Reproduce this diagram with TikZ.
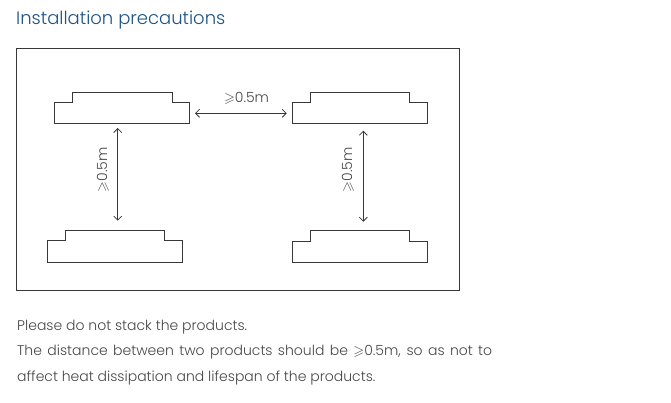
\documentclass[tikz,border=0pt]{standalone}
\usepackage{amssymb}
\usepackage{fontspec}
\setmainfont{Poppins}[UprightFont=* Light]
\usetikzlibrary{arrows.meta}
\definecolor{titleblue}{RGB}{28,82,135}
\definecolor{txtgray}{RGB}{70,70,70}
\definecolor{linegray}{RGB}{55,55,55}
\tikzset{
  prod/.style={draw=linegray, line width=0.9pt, line join=miter},
  gap/.style={draw=linegray, line width=0.8pt, {Straight Barb[length=4pt,width=8pt]}-{Straight Barb[length=4pt,width=8pt]}},
  lbl/.style={text=txtgray, font=\fontsize{14}{16}\selectfont, inner sep=0pt},
  body/.style={text=txtgray, font=\fontsize{14}{16}\selectfont, anchor=base west, inner sep=0pt},
}
\begin{document}
\begin{tikzpicture}[x=1pt,y=-1pt]
\useasboundingbox (0,0) rectangle (671,403);
\node[anchor=base west, inner sep=0pt, text=titleblue, font=\fontsize{18}{20}\selectfont] (title) at (16,25) {Installation precautions};
\draw[draw=linegray, line width=0.9pt] (16.5,48.5) rectangle (459.5,290) coordinate (framebr);
\coordinate (f) at (16.5,48.5);
% products
\draw[prod] (54.7,123.3) -- (54.7,102.7) -- (72.3,102.7) -- (72.3,92) -- (172.3,92) -- (172.3,102.7) -- (189,102.7) -- (189,123.3) -- cycle;
\draw[prod] (292.3,123.5) -- (292.3,102.7) -- (310,102.7) -- (310,92) -- (409.3,92) -- (409.3,102.7) -- (427.3,102.7) -- (427.3,123.5) -- cycle;
\draw[prod] (47.3,262.3) -- (47.3,240.7) -- (65,240.7) -- (65,230) -- (164.7,230) -- (164.7,240.7) -- (182.7,240.7) -- (182.7,262.3) -- cycle;
\draw[prod] (292.3,262) -- (292.3,241) -- (310,241) -- (310,230.3) -- (409.3,230.3) -- (409.3,241) -- (427.3,241) -- (427.3,262) -- cycle;
% arrow endpoints
\coordinate (h1) at (195,113.3);
\coordinate (h2) at (286.7,113.3);
\coordinate (v1a) at (117.7,128);
\coordinate (v1b) at (117.7,220.7);
\coordinate (v2a) at (363.3,130.7);
\coordinate (v2b) at (363.3,221.7);
\draw[gap] (h1) -- (h2);
\draw[gap] (v1a) -- (v1b);
\draw[gap] (v2a) -- (v2b);
\node[lbl] (hl) at (246.5,98) {$\geqslant$0.5m};
\node[lbl, rotate=90] (vl1) at (103,170) {$\geqslant$0.5m};
\node[lbl, rotate=90] (vl2) at (348,170) {$\geqslant$0.5m};
% body text
\node[body] (t1) at (17,330) {Please do not stack the products.};
\node[body] (t2) at (17,355) {\makebox[475pt][s]{The distance between two products should be $\geqslant$0.5m, so as not to}};
\node[body] (t3) at (17,381) {affect heat dissipation and lifespan of the products.};
\end{tikzpicture}
\end{document}
